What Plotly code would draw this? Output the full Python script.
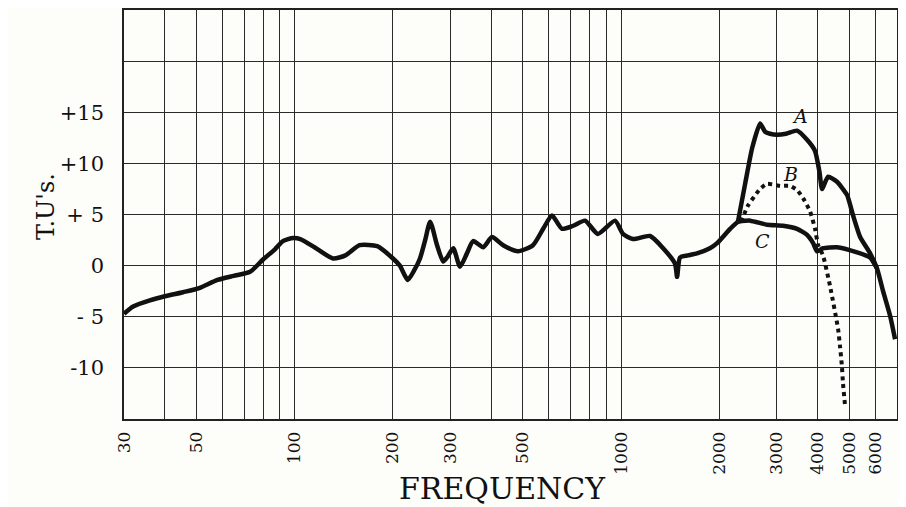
import plotly.graph_objects as go
import math

# ---- data (frequency in Hz, level in T.U.) ----
main_freq = [30, 32, 36, 40, 45.5, 51, 58, 65, 73, 80, 87, 92, 99, 104, 115, 131, 143, 158, 179,
             200, 210, 222, 232, 242, 251, 260, 273, 285, 293, 306, 321, 337, 352, 378, 402, 435,
             483, 537, 577, 614, 659, 713, 775, 849, 958, 1013, 1087, 1227, 1345, 1462, 1484,
             1515, 1600, 1707, 1871, 1968, 2157, 2280]
main_db = [-4.7, -4.0, -3.4, -3.0, -2.6, -2.2, -1.4, -1.0, -0.6, 0.6, 1.6, 2.4, 2.7, 2.6, 1.8, 0.7, 1.0, 2.0, 1.9,
           0.7, 0.0, -1.4, -0.5, 0.7, 2.5, 4.3, 2.0, 0.4, 0.8, 1.7, -0.1, 1.2, 2.4, 1.8, 2.8, 2.0,
           1.4, 2.0, 3.6, 4.9, 3.6, 3.9, 4.4, 3.1, 4.4, 3.1, 2.6, 2.9, 1.7, 0.2, -1.1,
           0.8, 1.0, 1.2, 1.7, 2.2, 3.6, 4.3]

a_freq = [2280, 2398, 2520, 2665, 2760, 2859, 3000, 3200, 3459, 3712, 3927, 4050, 4125, 4305,
          4585, 4922, 5136, 5397, 5790, 6084, 6346, 6667, 6906]
a_db = [4.3, 8.0, 11.5, 13.9, 13.1, 12.9, 12.8, 12.9, 13.2, 12.3, 11.2, 9.2, 7.5, 8.7,
        8.2, 6.9, 4.9, 2.8, 1.2, -0.3, -2.5, -4.9, -7.2]

b_freq = [2330, 2450, 2665, 2799, 3068, 3291, 3459, 3609, 3792, 3927, 4012, 4154, 4365, 4620,
          4680, 4745, 4782, 4853]
b_db = [4.3, 5.9, 7.5, 8.0, 7.8, 7.8, 7.4, 6.6, 5.3, 3.6, 2.0, 1.0, -2.0, -6.2,
        -7.8, -9.8, -11.5, -13.7]

c_freq = [2280, 2484, 2799, 3133, 3459, 3712, 3873, 3984, 4154, 4585, 5283, 5790, 6084]
c_db = [4.3, 4.4, 4.0, 3.9, 3.6, 3.0, 2.2, 1.4, 1.7, 1.8, 1.3, 0.8, -0.3]

x_grid = [40, 50, 60, 70, 80, 90, 100, 200, 300, 400, 500, 600, 700, 800, 900,
          1000, 2000, 3000, 4000, 5000, 6000, 7000]
x_labels = {30: "30", 50: "50", 100: "100", 200: "200", 300: "300", 500: "500", 1000: "1000",
            2000: "2000", 3000: "3000", 4000: "4000", 5000: "5000", 6000: "6000"}
y_grid = [-15, -10, -5, 0, 5, 10, 15, 20, 25]
y_labels = {-10: "-10", -5: "- 5", 0: "0", 5: "+ 5", 10: "+10", 15: "+15"}

curve_labels = [("A", 3534, 14.6), ("B", 3300, 9.0), ("C", 2720, 2.4)]

INK = "#111111"
FONT = "DejaVu Serif"

fig = go.Figure()
fig.add_trace(go.Scatter(x=main_freq, y=main_db, mode="lines",
                         line=dict(color=INK, width=4.5, shape="spline", smoothing=0.6)))
fig.add_trace(go.Scatter(x=a_freq, y=a_db, mode="lines",
                         line=dict(color=INK, width=4.5, shape="spline", smoothing=0.5)))
fig.add_trace(go.Scatter(x=c_freq, y=c_db, mode="lines",
                         line=dict(color=INK, width=4.5, shape="spline", smoothing=0.5)))
fig.add_trace(go.Scatter(x=b_freq, y=b_db, mode="lines",
                         line=dict(color=INK, width=4, dash="dot", shape="spline", smoothing=0.5)))

for name, fx, fy in curve_labels:
    fig.add_annotation(x=math.log10(fx), y=fy, text="<i>" + name + "</i>", showarrow=False,
                       font=dict(family=FONT, size=19, color=INK))

xt = sorted(set(x_grid) | set(x_labels))
fig.update_xaxes(type="log", range=[math.log10(30), math.log10(7000)],
                 tickvals=xt, ticktext=[x_labels.get(v, "") for v in xt],
                 tickangle=-90, showgrid=True, gridcolor="#2a2a2a", gridwidth=1.3,
                 showline=True, linecolor="#222", linewidth=1.6, mirror=True,
                 ticks="", ticklabelstandoff=4, tickfont=dict(family=FONT, size=17, color=INK),
                 automargin=False, zeroline=False)
fig.update_yaxes(range=[-15, 25], tickvals=y_grid, ticktext=[y_labels.get(v, "") for v in y_grid],
                 showgrid=True, gridcolor="#2a2a2a", gridwidth=1.3,
                 showline=True, linecolor="#222", linewidth=1.6, mirror=True,
                 ticks="", ticklabelstandoff=14, tickfont=dict(family=FONT, size=21, color=INK),
                 automargin=False, zeroline=False)

fig.add_annotation(xref="paper", yref="paper", x=-0.1, y=0.52, text="T.U's.", textangle=-90,
                   showarrow=False, xanchor="center", yanchor="middle",
                   font=dict(family=FONT, size=24, color=INK))
fig.add_annotation(xref="paper", yref="paper", x=0.49, y=-0.169, text="FREQUENCY",
                   showarrow=False, xanchor="center", yanchor="middle",
                   font=dict(family=FONT, size=30, color=INK))

# the page body adds an 8 px offset, so the figure is 8 px smaller and margins shifted
fig.update_layout(width=898, height=499, margin=dict(l=116, r=9, t=2, b=88),
                  paper_bgcolor="#fdfdfa", plot_bgcolor="#fdfdfa", showlegend=False)

fig.write_html("out.html")
